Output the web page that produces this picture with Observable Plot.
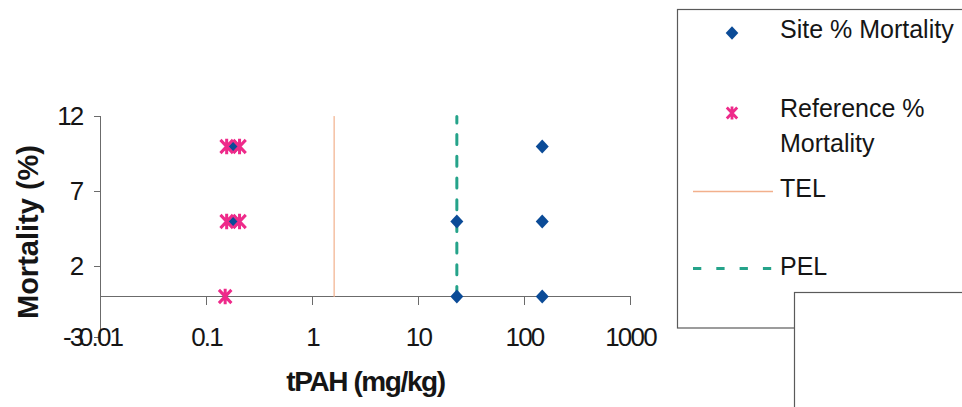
<!DOCTYPE html>
<html>
<head>
<meta charset="utf-8">
<script src="https://cdn.jsdelivr.net/npm/d3@7"></script>
<script src="https://cdn.jsdelivr.net/npm/@observablehq/plot@0.6"></script>
<style>
  html, body { margin: 0; padding: 0; background: white; overflow: hidden; }
  #wrap { position: relative; width: 962px; height: 407px; overflow: hidden; }
  #legend { position: absolute; left: 0; top: 0; pointer-events: none; }
  .tight text { letter-spacing: -1.8px; }
</style>
</head>
<body>
<div id="wrap"></div>
<script>
// ---- data ----
const siteX = [0.184, 0.184, 23, 23, 147, 147, 147];
const siteY = [10, 5, 5, 0, 10, 5, 0];
const refX = [0.155, 0.205, 0.155, 0.205, 0.15];
const refY = [10, 10, 5, 5, 0];
const telX = 1.6;
const pelX = 23;
const guideY = [0, 12];
const xTicks = [0.01, 0.1, 1, 10, 100, 1000];
const xTickLabels = ["0.01", "0.1", "1", "10", "100", "1000"];
const yTicksUpper = [12, 7, 2];
const yTickMin = [-3];
const seriesNames = ["Site % Mortality", "Reference %\nMortality", "TEL", "PEL"];

// ---- styles ----
const C_SITE = "#0b4b97";
const C_REF = "#ee2a8a";
const C_TEL = "#f2b08c";
const C_PEL = "#25a38a";
const AXIS = "#6b6b6b";
const INK = "#151515";
const REG = "'Liberation Sans', Arial, sans-serif";

const diamond = {
  draw(ctx, size) {
    const r = Math.sqrt(size / Math.PI);
    ctx.moveTo(0, -r);
    ctx.lineTo(r * 0.93, 0);
    ctx.lineTo(0, r);
    ctx.lineTo(-r * 0.93, 0);
    ctx.closePath();
  }
};
const asterisk = {
  draw(ctx, size) {
    const r = Math.sqrt(size / Math.PI);
    const w = r * 0.8;
    ctx.moveTo(0, -r); ctx.lineTo(0, r);
    ctx.moveTo(-w, -r * 0.85); ctx.lineTo(w, r * 0.85);
    ctx.moveTo(-w, r * 0.85); ctx.lineTo(w, -r * 0.85);
  }
};

const site = siteX.map((x, i) => ({x, y: siteY[i]}));
const ref = refX.map((x, i) => ({x, y: refY[i]}));
const pelLine = guideY.map(y => ({x: pelX, y}));
const telLine = guideY.map(y => ({x: telX, y}));
const ticks = xTicks.map((x, i) => ({x, label: xTickLabels[i]}));

const tickText = {fontSize: 26, fill: INK, className: "tight"};

const chart = Plot.plot({
  width: 962,
  height: 407,
  marginLeft: 100,
  marginRight: 332,
  marginTop: 116,
  marginBottom: 66,
  style: {fontFamily: REG, fontSize: "26px", color: INK, background: "white", overflow: "visible"},
  x: {type: "log", domain: [0.01, 1000], axis: null},
  y: {domain: [-3, 12], axis: null},
  marks: [
    // y axis
    Plot.ruleX([0.01], {y1: -3, y2: 12, stroke: AXIS, strokeWidth: 1}),
    Plot.axisY({ticks: yTicksUpper, tickSize: 6, tickPadding: 12, stroke: AXIS, label: null, tickFormat: d => String(d), ...tickText}),
    Plot.axisY({ticks: yTickMin, tickSize: 6, tickPadding: 12, stroke: AXIS, label: null, dy: -4, tickFormat: d => String(d), ...tickText}),
    // x axis line at y = 0 and ticks
    Plot.ruleY([0], {stroke: AXIS, strokeWidth: 1}),
    Plot.ruleX(ticks, {x: "x", y1: 0, y2: 0, insetBottom: -9, stroke: AXIS, strokeWidth: 1}),
    Plot.text(ticks, {x: "x", y: -3, text: "label", dy: -4, ...tickText}),
    // guide lines
    Plot.line(telLine, {x: "x", y: "y", stroke: C_TEL, strokeWidth: 1.2}),
    Plot.line(pelLine, {x: "x", y: "y", stroke: C_PEL, strokeWidth: 3, strokeDasharray: "10,11.7"}),
    // points
    Plot.dot(site, {x: "x", y: "y", symbol: diamond, r: 7, fill: C_SITE, stroke: "none"}),
    Plot.dot(ref, {x: "x", y: "y", symbol: asterisk, r: 7.8, fill: "none", stroke: C_REF, strokeWidth: 3}),
    // axis titles
    Plot.text(["tPAH (mg/kg)"], {frameAnchor: "bottom", textAnchor: "middle", dy: 49, fontWeight: "bold", fontSize: 28, fill: INK, className: "xlab"}),
    Plot.text(["Mortality (%)"], {frameAnchor: "left", textAnchor: "middle", rotate: -90, dx: -72, dy: 3, fontWeight: "bold", fontSize: 29, fill: INK})
  ]
});
document.getElementById("wrap").appendChild(chart);
chart.querySelectorAll(".xlab text").forEach(t => t.style.letterSpacing = "-1.4px");

// ---- legend ----
const lg = d3.select("#wrap").append("svg")
  .attr("id", "legend").attr("width", 962).attr("height", 407);
lg.append("rect").attr("x", 677.5).attr("y", 9.5).attr("width", 400).attr("height", 318.5)
  .attr("fill", "white").attr("stroke", "#5a5a5a").attr("stroke-width", 1.2);
lg.append("rect").attr("x", 794.5).attr("y", 292.5).attr("width", 300).attr("height", 200)
  .attr("fill", "white").attr("stroke", "#5a5a5a").attr("stroke-width", 1.2);

const sx = 732, tx = 780;
const diamondPath = d3.symbol(diamond, Math.PI * 6.8 * 6.8)();
const asteriskPath = d3.symbol(asterisk, Math.PI * 6.5 * 6.5)();
lg.append("path").attr("d", diamondPath).attr("transform", `translate(${sx},33)`).attr("fill", C_SITE);
lg.append("path").attr("d", asteriskPath).attr("transform", `translate(${sx},113)`)
  .attr("fill", "none").attr("stroke", C_REF).attr("stroke-width", 2.8);
lg.append("line").attr("x1", 693).attr("x2", 773).attr("y1", 191.5).attr("y2", 191.5)
  .attr("stroke", C_TEL).attr("stroke-width", 1.6);
lg.append("line").attr("x1", 693).attr("x2", 773).attr("y1", 268.5).attr("y2", 268.5)
  .attr("stroke", C_PEL).attr("stroke-width", 3).attr("stroke-dasharray", "8.3,15");

const textRows = [
  {t: seriesNames[0], y: 38},
  {t: seriesNames[1].split("\n")[0], y: 117},
  {t: seriesNames[1].split("\n")[1], y: 152},
  {t: seriesNames[2], y: 197},
  {t: seriesNames[3], y: 275}
];
lg.selectAll("text.lt").data(textRows).join("text")
  .attr("class", "lt")
  .attr("x", tx).attr("y", d => d.y)
  .attr("font-family", REG).attr("font-size", 25).attr("fill", INK)
  .text(d => d.t);
</script>
</body>
</html>
